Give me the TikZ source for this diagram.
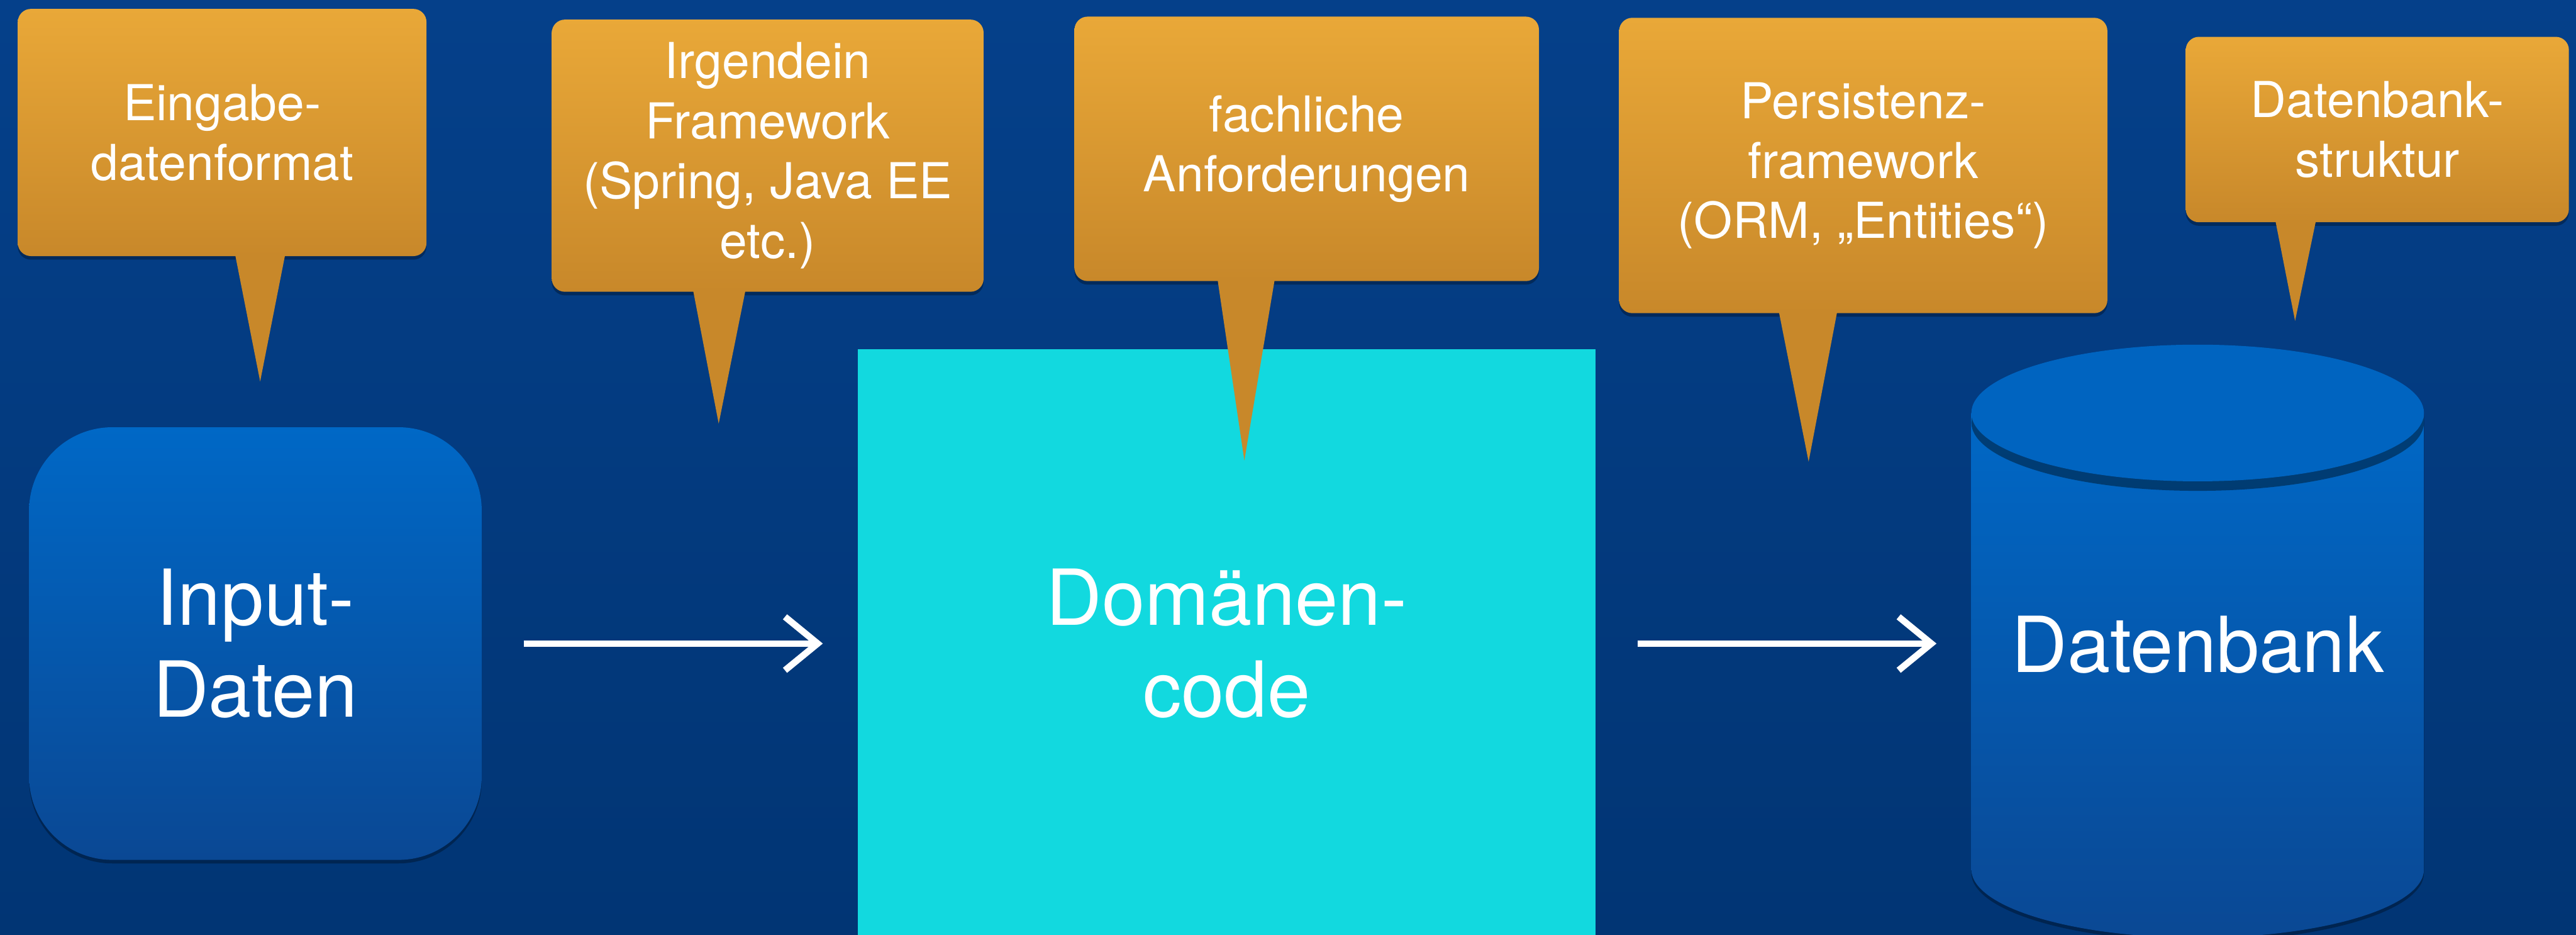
\documentclass[tikz,border=0pt]{standalone}
\usepackage{fontspec}
\setmainfont{TeX Gyre Heros}
\usetikzlibrary{arrows.meta,positioning,shadows,calc}
\usepackage{xcolor}

\definecolor{bgoben}{HTML}{05408A}
\definecolor{bgunten}{HTML}{013574}
\definecolor{boxoben}{HTML}{0068C6}
\definecolor{boxunten}{HTML}{0A4894}
\definecolor{dboben}{HTML}{0064C0}
\definecolor{tuerkis}{HTML}{12D9DF}
\definecolor{ororben}{HTML}{E9A838}
\definecolor{orunten}{HTML}{C8882A}

\newcommand{\grossschrift}{\fontsize{37}{43.8}\selectfont}
\newcommand{\kleinschrift}{\fontsize{23.7}{28.7}\selectfont}

\tikzset{
  schatten/.style={drop shadow={opacity=0.3,fill=black,shadow xshift=0cm,shadow yshift=-0.06cm}},
  blaubox/.style={top color=boxoben,bottom color=boxunten,text=white,align=center,
    font=\grossschrift,schatten},
  blase/.style={rectangle,rounded corners=0.22cm,top color=ororben,bottom color=orunten,
    text=white,align=center,font=\kleinschrift,inner sep=0pt,schatten},
  spitze/.style={fill=orunten},
  pfeil/.style={draw=white,line width=0.11cm,-{Straight Barb[length=0.55cm,width=0.9cm]},
    shorten <=0.7cm,shorten >=0.58cm}
}

\begin{document}
\begin{tikzpicture}
	% Hintergrund
	\useasboundingbox (0,0) rectangle (43.37,15.73);
	\shade[top color=bgoben,bottom color=bgunten] (0,0) rectangle (43.37,15.73);
	\clip (0,0) rectangle (43.37,15.73);
	
	% Input-Daten
	\node[blaubox,rounded corners=1.4cm,minimum width=7.62cm,minimum height=7.28cm] (input) at (4.30,4.90) {Input-\\Daten};
	
	% Domaenencode
	\node[fill=tuerkis,text=white,align=center,font=\grossschrift,minimum width=12.42cm,minimum height=9.9cm] (domain) at (20.65,4.90) {Domänen-\\code};
	
	% Datenbank (Zylinder)
	\shade[top color=boxoben,bottom color=boxunten,schatten] (33.19,8.78) -- (33.19,1.10)
	arc[start angle=180,end angle=360,x radius=3.81cm,y radius=1.15cm] -- (40.81,8.78) -- cycle;
	\fill[dboben,drop shadow={opacity=0.4,fill=black,shadow xshift=0cm,shadow yshift=-0.16cm}] (37.00,8.78) ellipse [x radius=3.81cm,y radius=1.15cm];
	\node[text=white,font=\grossschrift,minimum width=7.62cm] (db) at (37.00,4.88) {Datenbank};
	
	% Pfeile
	\draw[pfeil] (input.east) -- (domain.west |- input.east);
	\draw[pfeil] (domain.east |- input.east) -- (db.west |- input.east);
	
	% Sprechblasen
	\node[blase,minimum width=6.88cm,minimum height=4.16cm] (eingabe) at (3.74,13.50) {Eingabe-\\datenformat};
	\fill[spitze] (3.96,11.44) -- (4.38,9.31) -- (4.80,11.44) -- cycle;
	
	\node[blase,minimum width=7.27cm,minimum height=4.58cm] (framework) at (12.925,13.11) {Irgendein\\Framework\\(Spring, Java EE\\etc.)};
	\fill[spitze] (11.67,10.84) -- (12.10,8.60) -- (12.55,10.84) -- cycle;
	
	\node[blase,minimum width=7.82cm,minimum height=4.45cm] (fachlich) at (22.00,13.225) {fachliche\\Anforderungen};
	\fill[spitze] (20.50,11.02) -- (20.95,7.98) -- (21.46,11.02) -- cycle;
	
	\node[blase,minimum width=8.22cm,minimum height=4.97cm] (persistenz) at (31.37,12.945) {Persistenz-\\framework\\(ORM, „Entities“)};
	\fill[spitze] (29.95,10.48) -- (30.45,7.96) -- (30.93,10.48) -- cycle;
	
	\node[blase,minimum width=6.45cm,minimum height=3.12cm] (struktur) at (40.025,13.55) {Datenbank-\\struktur};
	\fill[spitze] (38.31,12.01) -- (38.64,10.33) -- (38.99,12.01) -- cycle;
	
\end{tikzpicture}
\end{document}
